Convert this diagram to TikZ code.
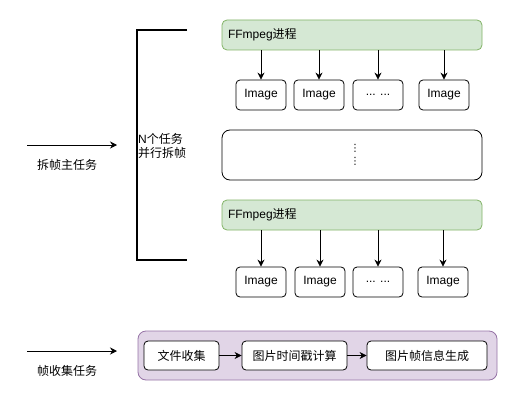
\documentclass[tikz,border=0pt]{standalone}
\usepackage{fontspec}
\setmainfont{Liberation Sans}
\newfontfamily\cjk{Noto Sans CJK SC}
\newfontfamily\simboli{DejaVu Sans}
\usetikzlibrary{arrows.meta}
\definecolor{verde}{HTML}{D5E8D4}
\definecolor{verdeBordo}{HTML}{82B366}
\definecolor{viola}{HTML}{E1D5E7}
\definecolor{violaBordo}{HTML}{9673A6}
\tikzset{
    testo/.style={font=\fontsize{12}{14}\selectfont},
    processo/.style={testo, draw=verdeBordo, fill=verde, rounded corners=5pt,
        line width=0.8pt, minimum height=30pt, text width=248pt,
        align=left, inner xsep=6pt, inner ysep=0pt},
    immagine/.style={testo, draw, rounded corners=4pt, line width=0.8pt,
        minimum width=50pt, minimum height=30pt, inner sep=0pt},
    blocco/.style={draw, rounded corners=8pt, line width=0.8pt,
        minimum width=260pt, minimum height=50pt, inner sep=0pt},
    raccolta/.style={draw=violaBordo, fill=viola, rounded corners=8pt,
        line width=0.8pt, minimum width=359pt, minimum height=49pt, inner sep=0pt},
    passo/.style={testo, draw, fill=white, rounded corners=4pt, line width=0.8pt,
        minimum height=29pt, inner sep=0pt},
    freccia/.style={-{Stealth[length=7pt,width=7pt]}, line width=0.8pt}
}
\begin{document}
\begin{tikzpicture}[x=1pt, y=-1pt]
    \useasboundingbox (0,0) rectangle (518,401);
    % Task principale
    \coordinate (a1) at (27,145);
    \coordinate (b1) at (117,145);
    \draw[freccia] (a1) -- (b1);
    \node[testo] (lab1) at (67,165) {\cjk 拆帧主任务};
    % Parentesi
    \draw[line width=2pt] (187,30) -- (137,30) -- (137,260) -- (187,260);
    \node[testo, anchor=west, align=left, inner sep=1pt] (npar) at (137,146)
        {N{\cjk 个任务}\\{\cjk 并行拆帧}};
    % Primo processo
    \node[processo] (ff1) at (352,35) {FFmpeg{\cjk 进程}};
    \foreach \x/\t [count=\i] in {261/Image,319/Image,378/{... ...},444/Image} {
        \node[immagine] (imgA\i) at (\x,95) {\t};
        \draw[freccia] (ff1.south -| imgA\i.north) -- (imgA\i.north);
    }
    % Altri processi
    \node[blocco] (altri) at (352,155) {};
    \node[font=\simboli\fontsize{10}{13}\selectfont, align=center, inner sep=0pt]
        (punti) at (355,155) {⋮\\⋮};
    % Ultimo processo
    \node[processo] (ff2) at (352,215) {FFmpeg{\cjk 进程}};
    \foreach \x/\t [count=\i] in {261/Image,320/Image,378/{... ...},443/Image} {
        \node[immagine] (imgB\i) at (\x,282) {\t};
        \draw[freccia] (ff2.south -| imgB\i.north) -- (imgB\i.north);
    }
    % Task di raccolta
    \coordinate (a2) at (27,351);
    \coordinate (b2) at (117,351);
    \draw[freccia] (a2) -- (b2);
    \node[testo] (lab2) at (67,371) {\cjk 帧收集任务};
    \node[raccolta] (racc) at (317.5,355.5) {};
    \node[passo, minimum width=75pt] (p1) at (181.5,355.5) {\cjk 文件收集};
    \node[passo, minimum width=105pt] (p2) at (294.5,355.5) {\cjk 图片时间戳计算};
    \node[passo, minimum width=120pt] (p3) at (427,355.5) {\cjk 图片帧信息生成};
    \draw[freccia] (p1) -- (p2);
    \draw[freccia] (p2) -- (p3);
\end{tikzpicture}
\end{document}
